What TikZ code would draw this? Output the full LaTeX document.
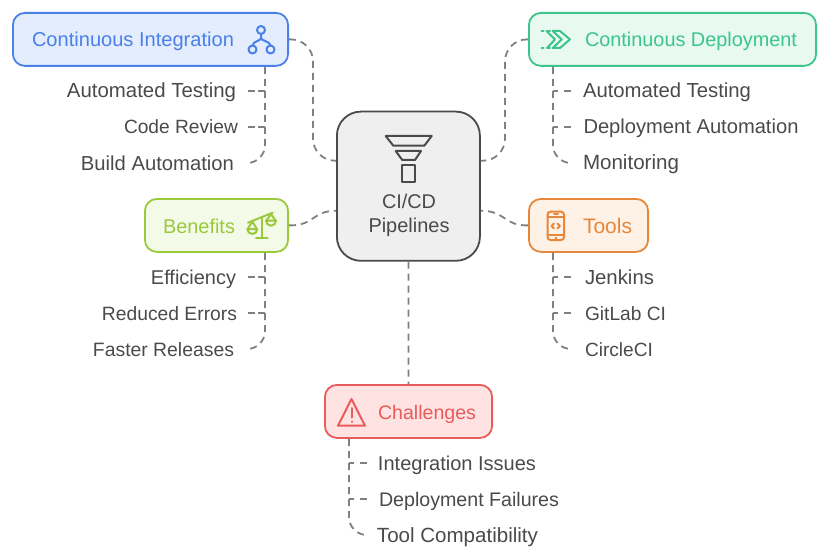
\documentclass[tikz,border=0pt]{standalone}
\usepackage{fontspec}
\setmainfont{Liberation Sans}
\usetikzlibrary{calc}
\definecolor{cib}{HTML}{4A80E8}\definecolor{cif}{HTML}{E3EDFD}
\definecolor{cdb}{HTML}{3CC58A}\definecolor{cdf}{HTML}{E8F9F1}
\definecolor{beb}{HTML}{9AC93C}\definecolor{bef}{HTML}{F3FAE8}
\definecolor{tob}{HTML}{E6873A}\definecolor{tof}{HTML}{FEF1E5}
\definecolor{chb}{HTML}{E85C5C}\definecolor{chf}{HTML}{FEE3E2}
\definecolor{mnb}{HTML}{4A4A4A}\definecolor{mnf}{HTML}{EFEFEF}
\definecolor{cng}{HTML}{808080}
\definecolor{txt}{HTML}{4A4A4A}
\newcommand{\fitw}[2]{\resizebox{#1pt}{!}{#2}}
\tikzset{
 x=1pt,y=-1pt,
 hdbox/.style n args={2}{draw=#1,fill=#2,line width=1.8pt,rounded corners=12pt,inner sep=0pt,minimum height=53pt},
 mainbox/.style={draw=mnb,fill=mnf,line width=1.8pt,rounded corners=24pt,inner sep=0pt,minimum width=143pt,minimum height=149.2pt},
 lbl/.style={font=\fontsize{20pt}{24pt}\selectfont,inner sep=0pt,text=#1,anchor=base,yshift=-7pt},
 itm/.style={font=\fontsize{20pt}{24pt}\selectfont,inner sep=0pt,text=txt,anchor=base,yshift=-7pt},
 conn/.style={draw=cng,line width=1.8pt,dash pattern=on 7pt off 5pt},
 stubl/.style={draw=cng,line width=1.8pt,dash pattern=on 7pt off 3pt},
 stubr/.style={draw=cng,line width=1.8pt,dash pattern=on 7.5pt off 6pt},
 ico/.style={line width=2pt,line join=round,line cap=round}
}
\begin{document}
\begin{tikzpicture}
\useasboundingbox (0,0) rectangle (830,559);
% boxes
\node[mainbox] (main) at (408.4,186.2) {};
\node[hdbox={cib}{cif},minimum width=275.2pt] (ci) at (150.5,39.4) {};
\node[hdbox={cdb}{cdf},minimum width=287.2pt] (cd) at (672.5,39.4) {};
\node[hdbox={beb}{bef},minimum width=143.2pt] (be) at (216.5,225.4) {};
\node[hdbox={tob}{tof},minimum width=119.2pt] (to) at (588.5,225.4) {};
\node[hdbox={chb}{chf},minimum width=167.2pt] (ch) at (408.5,411.4) {};
% titles
\node[lbl=cib] (cit) at (133,40) {\fitw{202}{Continuous Integration}};
\node[lbl=cdb] (cdt) at (691,40) {\fitw{212}{Continuous Deployment}};
\node[lbl=beb] (bet) at (199,226) {\fitw{72}{Benefits}};
\node[lbl=tob] (tot) at (607.5,226) {\fitw{49}{Tools}};
\node[lbl=chb] (cht) at (427,412) {\fitw{98}{Challenges}};
\node[itm] (mt1) at (409,201.5) {\fitw{54}{CI/CD}};
\node[itm] (mt2) at (409,225.7) {\fitw{81}{Pipelines}};
% items
\node[itm] (a1) at (151.5,91) {\fitw{169}{Automated Testing}};
\node[itm] (a2) at (181,127) {\fitw{114}{Code Review}};
\node[itm] (a3) at (157.5,163) {\fitw{153}{Build Automation}};
\node[itm] (b1) at (667,91) {\fitw{168}{Automated Testing}};
\node[itm] (b2) at (691,127) {\fitw{215}{Deployment Automation}};
\node[itm] (b3) at (631,163) {\fitw{96}{Monitoring}};
\node[itm] (c1) at (193.5,277) {\fitw{85}{Efficiency}};
\node[itm] (c2) at (169.5,313) {\fitw{135}{Reduced Errors}};
\node[itm] (c3) at (163.5,349) {\fitw{141}{Faster Releases}};
\node[itm] (d1) at (619.5,277) {\fitw{69}{Jenkins}};
\node[itm] (d2) at (625.5,313) {\fitw{81}{GitLab CI}};
\node[itm] (d3) at (619,349) {\fitw{68}{CircleCI}};
\node[itm] (e1) at (457,463) {\fitw{158}{Integration Issues}};
\node[itm] (e2) at (469,499) {\fitw{180}{Deployment Failures}};
\node[itm] (e3) at (457.5,535) {\fitw{161}{Tool Compatibility}};
% stub ends and trunks
\coordinate (ciL) at (248,0);\coordinate (ciT) at (265,67);
\coordinate (cdL) at (571,0);\coordinate (cdT) at (553,67);
\coordinate (beL) at (248,0);\coordinate (beT) at (265,253);
\coordinate (toL) at (571,0);\coordinate (toT) at (553,253);
\coordinate (chL) at (367,0);\coordinate (chT) at (349,439);
% main connectors
\coordinate (mnw1) at ($(main.west)+(0,-25.5)$);
\coordinate (mne1) at ($(main.east)+(0,-25.5)$);
\coordinate (mnw2) at ($(main.west)+(0,24.5)$);
\coordinate (mne2) at ($(main.east)+(0,24.5)$);
\draw[conn,rounded corners=22pt] (ci.east) -| (313,100) |- (mnw1);
\draw[conn,rounded corners=22pt] (cd.west) -| (505,100) |- (mne1);
\draw[conn] (be.east) .. controls (314,226) and (312,211) .. (mnw2);
\draw[conn] (to.west) .. controls (504,226) and (506,211) .. (mne2);
\draw[conn] (main.south) -- (ch.north);
% child connectors
\foreach \t/\l/\i/\j/\k/\st in {ciT/ciL/a1/a2/a3/stubl,cdT/cdL/b1/b2/b3/stubr,beT/beL/c1/c2/c3/stubl,toT/toL/d1/d2/d3/stubr,chT/chL/e1/e2/e3/stubr}{
 \coordinate (p1) at ($(\l |- \i.base)+(0,-7)$);
 \coordinate (p2) at ($(\l |- \j.base)+(0,-7)$);
 \coordinate (p3) at ($(\l |- \k.base)+(0,-7)$);
 \draw[\st] (p1) -- (\t |- p1);
 \draw[\st] (p2) -- (\t |- p2);
 \draw[conn,rounded corners=18pt] (\t) |- (p3);
}
% CI icon
\begin{scope}[draw=cib,ico]
\draw (261,30) circle (4); \draw (252.5,49.5) circle (4); \draw (270.5,49.5) circle (4);
\draw (261,34) -- (261,38) .. controls (261,41) and (253,41) .. (252.5,45.5);
\draw (261,38) .. controls (261,41) and (270,41) .. (270.5,45.5);
\end{scope}
% CD icon
\begin{scope}[draw=cdb,ico]
\draw (552.7,31) -- (560,31) -- (570,39.4) -- (560,48) -- (552.7,48) -- (561.7,39.4) -- cycle;
\draw (546.5,31) -- (555,39.4) -- (547,48);
\draw (541.5,31) -- (543.5,31) (546.5,31) -- (550,31);
\draw (541.5,48) -- (543.5,48) (547,48) -- (550,48);
\end{scope}
% Benefits icon
\begin{scope}[draw=beb,ico]
\draw (248,222.7) -- (272.7,212.7);
\draw (261.7,217) -- (261.7,237.7);
\draw (256,237.7) -- (267.7,237.7);
\draw (247.8,229) -- (252.3,221.5) -- (256.8,229);
\draw (247.3,229) -- (257.3,229) arc (0:180:5) -- cycle;
\draw (266.5,220.5) -- (271,214) -- (275.5,220.5);
\draw (266,220.7) -- (276,220.7) arc (0:180:5) -- cycle;
\end{scope}
% Tools icon
\begin{scope}[draw=tob,ico]
\draw[rounded corners=3pt] (547.5,211.7) rectangle (564,240);
\draw (547.5,216.5) -- (564,216.5) (547.5,235) -- (564,235);
\draw (554,214) -- (558,214) (555.5,237.5) -- (556.5,237.5);
\draw (554,223.5) -- (551.5,226) -- (554,228.5) (557.5,223.5) -- (560,226) -- (557.5,228.5);
\end{scope}
% Challenges icon
\begin{scope}[draw=chb,ico]
\draw (351.5,399) -- (365,425.7) -- (338,425.7) -- cycle;
\draw (351.5,408) -- (351.5,417.5) (351.5,421.5) -- (351.5,421.8);
\end{scope}
% funnel icon
\begin{scope}[draw=mnb,ico,line cap=butt]
\draw (385.7,136) -- (431.7,136) -- (424.3,145.7) -- (393.3,145.7) -- cycle;
\draw (395.7,151) -- (421,151) -- (415,160) -- (402.3,160) -- cycle;
\draw (401.7,165) rectangle (415,182.3);
\end{scope}
\end{tikzpicture}
\end{document}
